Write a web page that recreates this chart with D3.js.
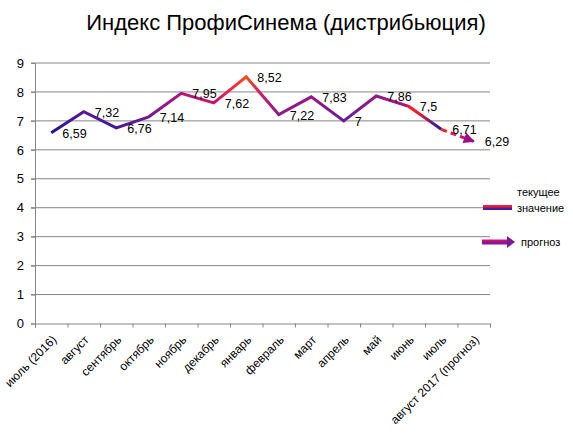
<!DOCTYPE html>
<html>
<head>
<meta charset="utf-8">
<script src="https://cdn.jsdelivr.net/npm/d3@7/dist/d3.min.js"></script>
<style>
  body { margin: 0; background: #fff; }
  text { font-family: "Liberation Sans", Arial, sans-serif; fill: #000; }
</style>
</head>
<body>
<svg></svg>
<script>
//Canvas settings
var width = 573;
var height = 438;

//Data
var months = ["июль (2016)", "август", "сентябрь", "октябрь", "ноябрь", "декабрь", "январь",
	"февраль", "март", "апрель", "май", "июнь", "июль", "август 2017 (прогноз)"];
var actual = [6.59, 7.32, 6.76, 7.14, 7.95, 7.62, 8.52, 7.22, 7.83, 7, 7.86, 7.5, 6.71];
var forecast = [6.71, 6.29]; // from "июль" to "август 2017 (прогноз)"
var yTicks = [0, 1, 2, 3, 4, 5, 6, 7, 8, 9];

//Gradient along the current line (position in category index, colour)
var lineStops = [
	[0, "#221490"], [1, "#581896"], [2, "#461898"], [3, "#781892"],
	[4, "#b0147c"], [5, "#c8126c"], [5.7, "#f03040"], [6, "#ff4a10"], [6.4, "#d02068"],
	[7, "#8c1a8c"], [8, "#961686"], [9, "#6a1a98"], [10, "#941888"],
	[10.9, "#a01880"], [11.05, "#ff1c1c"], [11.3, "#f01c30"], [11.9, "#3a1a9a"], [12, "#2a1a9a"]
];

var svg = d3.select("svg")
	.attr("width", width)
	.attr("height", height);

var x = d3.scaleBand().domain(months).range([35, 490]);
var xi = d3.scaleLinear().domain([0, months.length]).range([35, 490]);
var y = d3.scaleLinear().domain([0, 9]).range([323.5, 63]);

function cx(i) { return x(months[i]) + x.bandwidth() / 2; }

var defs = svg.append("defs");

var g1 = defs.append("linearGradient")
	.attr("id", "curGrad")
	.attr("gradientUnits", "userSpaceOnUse")
	.attr("x1", cx(0)).attr("x2", cx(12))
	.attr("y1", 0).attr("y2", 0);
g1.selectAll("stop").data(lineStops).enter().append("stop")
	.attr("offset", function(d) { return d[0] / 12; })
	.attr("stop-color", function(d) { return d[1]; });

var g2 = defs.append("linearGradient")
	.attr("id", "fcGrad")
	.attr("gradientUnits", "userSpaceOnUse")
	.attr("x1", cx(12)).attr("x2", cx(13))
	.attr("y1", 0).attr("y2", 0);
g2.append("stop").attr("offset", 0).attr("stop-color", "#ff2020");
g2.append("stop").attr("offset", 0.6).attr("stop-color", "#d0106a");
g2.append("stop").attr("offset", 1).attr("stop-color", "#9a0f85");

//legend gradients (vertical)
var g3 = defs.append("linearGradient").attr("id", "legCur")
	.attr("x1", 0).attr("x2", 0).attr("y1", 0).attr("y2", 1);
g3.append("stop").attr("offset", 0).attr("stop-color", "#ff2020");
g3.append("stop").attr("offset", 0.45).attr("stop-color", "#e0184a");
g3.append("stop").attr("offset", 0.55).attr("stop-color", "#5a1aa0");
g3.append("stop").attr("offset", 1).attr("stop-color", "#3a1a9a");

var g4 = defs.append("linearGradient").attr("id", "legFc")
	.attr("x1", 0).attr("x2", 0).attr("y1", 0).attr("y2", 1);
g4.append("stop").attr("offset", 0).attr("stop-color", "#e0186a");
g4.append("stop").attr("offset", 0.5).attr("stop-color", "#a0108a");
g4.append("stop").attr("offset", 1).attr("stop-color", "#7a1a9a");

defs.append("marker")
	.attr("id", "arrow")
	.attr("viewBox", "0 0 10 10")
	.attr("refX", 9).attr("refY", 5)
	.attr("markerUnits", "userSpaceOnUse")
	.attr("markerWidth", 13).attr("markerHeight", 11)
	.attr("orient", "auto")
	.append("path")
	.attr("d", "M0,0L10,5L0,10Z")
	.attr("fill", "#9a0f85");

//Title
svg.append("text")
	.attr("x", 286)
	.attr("y", 30)
	.attr("text-anchor", "middle")
	.style("font-size", "22px")
	.text("Индекс ПрофиСинема (дистрибьюция)");

//Gridlines
svg.append("g").selectAll("line")
	.data(yTicks.filter(function(d) { return d > 0; }))
	.enter().append("line")
	.attr("x1", 31).attr("x2", 490)
	.attr("y1", function(d) { return y(d); })
	.attr("y2", function(d) { return y(d); })
	.attr("stroke", "#868686")
	.attr("stroke-width", 1);

//Y axis
var yAxis = svg.append("g")
	.attr("transform", "translate(35,0)")
	.call(d3.axisLeft(y).tickValues(yTicks).tickSize(4).tickFormat(function(d) { return d; }));
yAxis.select(".domain").attr("stroke", "#868686");
yAxis.selectAll(".tick line").attr("stroke", "#868686");
yAxis.selectAll(".tick text")
	.attr("x", -11)
	.style("font-size", "13px")
	.style("font-family", "'Liberation Sans', Arial, sans-serif");

//X axis
var xAxis = svg.append("g")
	.attr("transform", "translate(0," + y(0) + ")")
	.call(d3.axisBottom(xi).tickValues(d3.range(months.length + 1)).tickSize(4).tickFormat(""));
xAxis.select(".domain").attr("stroke", "#868686");
xAxis.selectAll(".tick line").attr("stroke", "#868686");

svg.append("g").selectAll("text")
	.data(months)
	.enter().append("text")
	.attr("text-anchor", "end")
	.attr("transform", function(d, i) {
		return "translate(" + (cx(i) + 6) + "," + (y(0) + 17) + ") rotate(-45)";
	})
	.style("font-size", "12px")
	.text(function(d) { return d; });

//Current line
var line = d3.line()
	.x(function(d, i) { return cx(i); })
	.y(function(d) { return y(d); });

svg.append("path")
	.datum(actual)
	.attr("d", line)
	.attr("fill", "none")
	.attr("stroke", "url(#curGrad)")
	.attr("stroke-width", 3)
	.attr("stroke-linejoin", "miter");

//Forecast line
var fcLine = d3.line()
	.x(function(d, i) { return cx(12 + i); })
	.y(function(d) { return y(d); });

svg.append("path")
	.datum(forecast)
	.attr("d", fcLine)
	.attr("fill", "none")
	.attr("stroke", "url(#fcGrad)")
	.attr("stroke-width", 3)
	.attr("stroke-dasharray", "6,4")
	.attr("marker-end", "url(#arrow)");

//Data labels, to the right of each point
var labels = actual.slice();
labels.push(forecast[1]);
svg.append("g").selectAll("text")
	.data(labels)
	.enter().append("text")
	.attr("x", function(d, i) { return cx(i) + 11; })
	.attr("y", function(d) { return y(d); })
	.attr("dy", "0.4em")
	.style("font-size", "12.5px")
	.text(function(d) { return String(d).replace(".", ","); });

//Legend
var leg = svg.append("g");
leg.append("rect")
	.attr("x", 483).attr("y", 205)
	.attr("width", 29).attr("height", 5)
	.attr("fill", "url(#legCur)");
leg.append("text")
	.attr("x", 517).attr("y", 196)
	.style("font-size", "11px")
	.text("текущее");
leg.append("text")
	.attr("x", 517).attr("y", 212)
	.style("font-size", "11px")
	.text("значение");

leg.append("rect")
	.attr("x", 482).attr("y", 239.5)
	.attr("width", 26).attr("height", 5)
	.attr("fill", "url(#legFc)");
leg.append("path")
	.attr("d", "M507,236L515,242L507,248Z")
	.attr("fill", "#7a1a9a");
leg.append("text")
	.attr("x", 521).attr("y", 246)
	.style("font-size", "11px")
	.text("прогноз");
</script>
</body>
</html>
